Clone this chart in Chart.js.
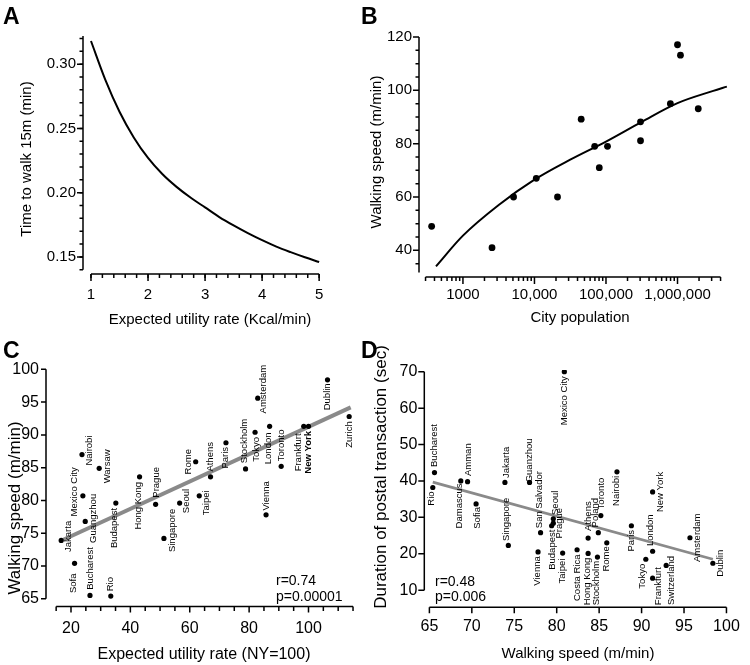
<!DOCTYPE html>
<html><head><meta charset="utf-8">
<script src="https://cdn.jsdelivr.net/npm/chart.js@4.4.0/dist/chart.umd.min.js"></script>
<style>
html,body{margin:0;padding:0;background:#fff;}
#wrap{position:relative;width:750px;height:665px;overflow:hidden;}
canvas{position:absolute;left:0;top:0;}
</style></head><body>
<div id="wrap">
<canvas id="cA" width="750" height="665"></canvas>
<canvas id="cB" width="750" height="665"></canvas>
<canvas id="cC" width="750" height="665"></canvas>
<canvas id="cD" width="750" height="665"></canvas>
</div>
<script>
// ---------- Panel A ----------
const A_RATE = [1, 1.25, 1.5, 1.75, 2, 2.25, 2.5, 2.75, 3, 3.25, 3.5, 3.75, 4, 4.25, 4.5, 4.75, 5];
const A_TIME = [0.318, 0.288, 0.263, 0.243, 0.227, 0.2145, 0.2045, 0.196, 0.1885, 0.181, 0.1745, 0.1685, 0.163, 0.158, 0.1537, 0.1497, 0.146];
const A_X_TICKS = [1, 2, 3, 4, 5];
const A_X_LABELS = ['1', '2', '3', '4', '5'];
const A_Y_TICKS = [0.15, 0.20, 0.25, 0.30];
const A_Y_LABELS = ['0.15', '0.20', '0.25', '0.30'];

// ---------- Panel B ----------
const B_POP = [365, 2550, 5100, 10600, 21000, 45000, 69500, 80600, 105000, 304000, 304000, 795000, 1000000, 1100000, 1950000];
const B_SPEED = [49, 41, 60, 67, 60, 89.2, 79, 71, 79, 88.2, 81.1, 95, 117.1, 113.2, 93.1];
const B_FIT_POP = [420, 1000, 3162, 10000, 31623, 100000, 316228, 1000000, 3162278, 4900000];
const B_FIT_SPEED = [34, 45.5, 57, 66.5, 74, 80.8, 88.2, 95.2, 99.8, 101.4];
const B_X_TICKS = [1000, 10000, 100000, 1000000];
const B_X_LABELS = ['1000', '10,000', '100,000', '1,000,000'];
const B_Y_TICKS = [40, 60, 80, 100, 120];
const B_Y_LABELS = ['40', '60', '80', '100', '120'];

// ---------- Panel C ----------
const C_CITY = ['Jakarta','Sofa','Mexico City','Nairobi','Guangzhou','Bucharest','Warsaw','Rio','Budapest','Hong Kong','Prague','Singapore','Seoul','Rome','Taipei','Athens','Paris','Stockholm','Tokyo','Amsterdam','Vienna','London','Toronto','Frankfurt','New York','Dublin','Zurich'];
const C_UTILITY = [16.7, 21.2, 24.0, 23.7, 24.8, 26.4, 29.5, 33.4, 35.1, 43.1, 48.5, 51.3, 56.6, 62.0, 63.2, 67.0, 72.2, 78.8, 82.0, 82.9, 85.7, 86.9, 90.8, 98.4, 100, 106.4, 113.7];
const C_SPEED = [73.9, 70.4, 80.7, 87.0, 76.8, 65.5, 84.9, 65.4, 79.6, 83.6, 79.4, 74.2, 79.6, 85.9, 80.7, 83.6, 88.8, 84.8, 90.4, 95.6, 77.8, 91.3, 85.2, 91.3, 91.3, 98.4, 92.8];
const C_FIT_X = [17.4, 114.2];
const C_FIT_Y = [74.0, 94.2];
const C_X_TICKS = [20, 40, 60, 80, 100];
const C_X_LABELS = ['20', '40', '60', '80', '100'];
const C_Y_TICKS = [65, 70, 75, 80, 85, 90, 95, 100];
const C_Y_LABELS = ['65', '70', '75', '80', '85', '90', '95', '100'];

// ---------- Panel D ----------
const D_CITY = ['Rio','Bucharest','Damascus','Amman','Sofia','Jakarta','Singapore','Guanzhou','San Salvador','Vienna','Budapest','Prague','Seoul','Taipei','Mexico City','Costa Rica','Hong Kong','Athens','Stockholm','Poland','Toronto','Rome','Nairobi','Paris','London','New York','Tokyo','Frankfurt','Switzerland','Amsterdam','Dublin'];
const D_SPEED = [65.4, 65.6, 68.7, 69.5, 70.5, 73.9, 74.3, 76.8, 78.1, 77.8, 79.4, 79.6, 79.6, 80.7, 80.9, 82.4, 83.7, 83.7, 84.8, 84.9, 85.2, 85.9, 87.1, 88.8, 91.3, 91.3, 90.5, 91.3, 92.9, 95.7, 98.4];
const D_DURATION = [38.2, 42.3, 40.0, 39.8, 33.7, 39.6, 22.3, 39.6, 25.8, 20.5, 27.7, 28.4, 29.6, 20.2, 70.0, 21.1, 20.1, 24.3, 19.1, 25.8, 30.5, 23.0, 42.5, 27.7, 20.7, 37.0, 18.5, 13.3, 16.8, 24.4, 17.4];
const D_FIT_X = [65.4, 98.4];
const D_FIT_Y = [39.7, 18.5];
const D_X_TICKS = [65, 70, 75, 80, 85, 90, 95, 100];
const D_X_LABELS = ['65', '70', '75', '80', '85', '90', '95', '100'];
const D_Y_TICKS = [10, 20, 30, 40, 50, 60, 70];
const D_Y_LABELS = ['10', '20', '30', '40', '50', '60', '70'];

// ---------- label placement (pixel offsets of each city name from its dot) ----------
const C_LABEL_OFFSET = [[7,-4],[-1,20],[-8,-4],[7,-4],[8,-3],[0,-27],[8,-2],[0,-12],[-1,25],[-1,29],[1,-22],[8,-8],[7,-2],[-7,0],[7,7],[0,-20],[-1,15],[-1,-28],[1,17],[6,-9],[0,-19],[-1,22],[0,-21],[-5,26],[0,26],[0,17],[0,18]];
const D_LABEL_OFFSET = [[-1,11],[0,-27],[-1,25],[1,-22],[1,14],[1,-20],[-2,-26],[0,-22],[-1,-33],[-1,19],[1,24],[6,0],[2,-16],[0,18],[0,29],[0,28],[-1,28],[0,-22],[-1,26],[-3,-20],[1,-22],[0,16],[-1,19],[0,15],[-2,-21],[8,0],[-3,17],[6,8],[5,15],[7,0],[7,0]];

const FONT = "'Liberation Sans', Arial, Helvetica, sans-serif";
const YW = 40, XH = 40;

function pts(xs, ys) { return xs.map((x, i) => ({x: x, y: ys[i]})); }
function steps(a, b, s) { const r = []; for (let v = a; v <= b + 1e-9; v += s) r.push(+v.toFixed(6)); return r; }
function logMinor(lo, hi) {
  const r = [];
  for (let d = 100; d <= 1e7; d *= 10) for (let m = 2; m <= 9; m++) { const v = d * m; if (v >= lo && v <= hi) r.push(v); }
  return r;
}
function padFor(a) { return {left: a.left - YW, top: a.top, right: 750 - a.right, bottom: 665 - a.bottom - XH}; }

function scaleCfg(o) {
  return {
    type: o.type || 'linear', min: o.min, max: o.max, position: o.horizontal ? 'bottom' : 'left',
    grid: {display: false, drawTicks: false}, border: {display: false},
    ticks: {color: '#000', font: {family: FONT, size: o.size}, padding: o.pad, autoSkip: false,
      maxRotation: 0, minRotation: 0, callback: (v, i) => o.labels[i]},
    afterBuildTicks: ax => { ax.ticks = o.ticks.map(v => ({value: v})); },
    afterFit: ax => { if (o.horizontal) ax.height = XH; else ax.width = YW; }
  };
}

function vtext(ctx, txt, x, y, font) {
  ctx.save(); ctx.translate(x, y); ctx.rotate(-Math.PI / 2);
  ctx.font = font; ctx.textAlign = 'center'; ctx.textBaseline = 'middle';
  ctx.fillText(txt, 0, 0); ctx.restore();
}

function makeDeco(o) {
  return {
    id: 'deco',
    afterDatasetsDraw(chart) {
      const ctx = chart.ctx, xs = chart.scales.x, ys = chart.scales.y, ca = chart.chartArea;
      const X = v => xs.getPixelForValue(v), Y = v => ys.getPixelForValue(v);
      const L = ca.left, B = ca.bottom;
      ctx.save();
      ctx.strokeStyle = '#000'; ctx.lineWidth = 1.5; ctx.lineCap = 'butt';
      ctx.beginPath();
      ctx.moveTo(L, Y(o.yLine[0])); ctx.lineTo(L, Y(o.yLine[1]));
      ctx.moveTo(X(o.xLine[0]), B); ctx.lineTo(X(o.xLine[1]), B);
      ctx.stroke();
      const ticks = (list, len, horiz) => {
        ctx.beginPath();
        list.forEach(v => {
          if (horiz) { const p = X(v); ctx.moveTo(p, B); ctx.lineTo(p, B + len); }
          else { const p = Y(v); ctx.moveTo(L, p); ctx.lineTo(L - len, p); }
        });
        ctx.stroke();
      };
      ticks(o.yMajor, o.yMajorLen, false);
      ticks(o.yMinor, o.yMinorLen, false);
      ticks(o.xMajor, o.xMajorLen, true);
      ticks(o.xMinor, o.xMinorLen, true);
      ctx.fillStyle = '#000';
      if (o.cities) {
        const c = o.cities;
        c.names.forEach((n, i) => {
          const bold = c.bold && c.bold.indexOf(n) >= 0;
          vtext(ctx, n, X(c.x[i]) + c.off[i][0], Y(c.y[i]) + c.off[i][1],
            (bold ? 'bold ' : '') + c.size + 'px ' + FONT);
        });
      }
      (o.titles || []).forEach(t => {
        if (t.rot) vtext(ctx, t.text, t.x, t.y, t.size + 'px ' + FONT);
        else { ctx.font = t.size + 'px ' + FONT; ctx.textAlign = 'center'; ctx.textBaseline = 'middle'; ctx.fillText(t.text, t.x, t.y); }
      });
      (o.notes || []).forEach(t => {
        ctx.font = t.size + 'px ' + FONT; ctx.textAlign = 'left'; ctx.textBaseline = 'middle'; ctx.fillText(t.text, t.x, t.y);
      });
      if (o.letter) {
        ctx.font = 'bold 23px ' + FONT; ctx.textAlign = 'left'; ctx.textBaseline = 'alphabetic';
        ctx.fillText(o.letter.text, o.letter.x, o.letter.y);
      }
      ctx.restore();
    }
  };
}

function make(id, area, scales, datasets, decoOpts) {
  return new Chart(document.getElementById(id), {
    type: 'scatter',
    data: {datasets: datasets},
    options: {
      responsive: false, animation: false, devicePixelRatio: 1,
      layout: {padding: padFor(area), autoPadding: false},
      plugins: {legend: {display: false}, tooltip: {enabled: false}},
      scales: scales, events: []
    },
    plugins: [makeDeco(decoOpts)]
  });
}

// Panel A
make('cA', {left: 83, right: 322, top: 34.6, bottom: 274},
  {x: scaleCfg({min: 0.86, max: 5.05, horizontal: true, ticks: A_X_TICKS, labels: A_X_LABELS, size: 15, pad: 12}),
   y: scaleCfg({min: 0.1367, max: 0.323, ticks: A_Y_TICKS, labels: A_Y_LABELS, size: 15, pad: 7})},
  [{data: pts(A_RATE, A_TIME), showLine: true, borderColor: '#000', borderWidth: 2, pointRadius: 0, cubicInterpolationMode: 'monotone', fill: false}],
  {yLine: [0.14, 0.322], yMajor: A_Y_TICKS, yMinor: steps(0.14, 0.32, 0.01), yMajorLen: 6, yMinorLen: 3.5,
   xLine: [1, 5], xMajor: A_X_TICKS, xMinor: steps(1, 5, 0.2), xMajorLen: 7, xMinorLen: 4,
   titles: [{text: 'Expected utility rate (Kcal/min)', x: 210, y: 320, size: 15},
            {text: 'Time to walk 15m (min)', x: 27, y: 159, size: 15, rot: true}],
   letter: {text: 'A', x: 3, y: 24}});

// Panel B
make('cB', {left: 419, right: 727.5, top: 33, bottom: 277},
  {x: scaleCfg({type: 'logarithmic', min: 243, max: 5e6, horizontal: true, ticks: B_X_TICKS, labels: B_X_LABELS, size: 15, pad: 9}),
   y: scaleCfg({min: 30, max: 121.5, ticks: B_Y_TICKS, labels: B_Y_LABELS, size: 15, pad: 7})},
  [{data: pts(B_POP, B_SPEED), showLine: false, pointRadius: 3.4, pointBackgroundColor: '#000', pointBorderWidth: 0},
   {data: pts(B_FIT_POP, B_FIT_SPEED), showLine: true, borderColor: '#000', borderWidth: 2, pointRadius: 0, cubicInterpolationMode: 'monotone', fill: false}],
  {yLine: [31.7, 120], yMajor: B_Y_TICKS, yMinor: steps(35, 115, 5).filter(v => v % 20 !== 0), yMajorLen: 6, yMinorLen: 3.5,
   xLine: [300, 4e6], xMajor: B_X_TICKS, xMinor: logMinor(300, 4e6), xMajorLen: 7, xMinorLen: 4,
   titles: [{text: 'City population', x: 580, y: 318, size: 15},
            {text: 'Walking speed (m/min)', x: 377, y: 152, size: 15, rot: true}],
   letter: {text: 'B', x: 361, y: 24}});

// Panel C
make('cC', {left: 46, right: 356, top: 365.4, bottom: 606.6},
  {x: scaleCfg({min: 11.58, max: 116, horizontal: true, ticks: C_X_TICKS, labels: C_X_LABELS, size: 16, pad: 12}),
   y: scaleCfg({min: 63.8, max: 100.6, ticks: C_Y_TICKS, labels: C_Y_LABELS, size: 16, pad: 7})},
  [{data: pts(C_UTILITY, C_SPEED), showLine: false, pointRadius: 2.6, pointBackgroundColor: '#000', pointBorderWidth: 0},
   {data: pts(C_FIT_X, C_FIT_Y), showLine: true, borderColor: '#8a8a8a', borderWidth: 4, pointRadius: 0, fill: false}],
  {yLine: [65, 100], yMajor: C_Y_TICKS, yMinor: [], yMajorLen: 5, yMinorLen: 3,
   xLine: [15, 115], xMajor: C_X_TICKS, xMinor: steps(15, 115, 5).filter(v => v % 20 !== 0), xMajorLen: 6, xMinorLen: 4.5,
   cities: {names: C_CITY, x: C_UTILITY, y: C_SPEED, off: C_LABEL_OFFSET, size: 9.5, bold: ['New York']},
   titles: [{text: 'Expected utility rate (NY=100)', x: 204, y: 655, size: 16},
            {text: 'Walking speed (m/min)', x: 15, y: 508, size: 17, rot: true}],
   notes: [{text: 'r=0.74', x: 276, y: 581, size: 14}, {text: 'p=0.00001', x: 276, y: 597, size: 14}],
   letter: {text: 'C', x: 3, y: 358}});

// Panel D
make('cD', {left: 424.3, right: 736, top: 369.9, bottom: 607.3},
  {x: scaleCfg({min: 64.4, max: 100.5, horizontal: true, ticks: D_X_TICKS, labels: D_X_LABELS, size: 16, pad: 10}),
   y: scaleCfg({min: 5.3, max: 70.5, ticks: D_Y_TICKS, labels: D_Y_LABELS, size: 16, pad: 7})},
  [{data: pts(D_SPEED, D_DURATION), showLine: false, pointRadius: 2.6, pointBackgroundColor: '#000', pointBorderWidth: 0},
   {data: pts(D_FIT_X, D_FIT_Y), showLine: true, borderColor: '#8a8a8a', borderWidth: 2.8, pointRadius: 0, fill: false}],
  {yLine: [10, 70], yMajor: D_Y_TICKS, yMinor: [], yMajorLen: 6, yMinorLen: 3,
   xLine: [65, 100], xMajor: D_X_TICKS, xMinor: [], xMajorLen: 6, xMinorLen: 3,
   cities: {names: D_CITY, x: D_SPEED, y: D_DURATION, off: D_LABEL_OFFSET, size: 9.5},
   titles: [{text: 'Walking speed (m/min)', x: 578, y: 654, size: 15},
            {text: 'Duration of postal transaction (sec)', x: 381, y: 477, size: 17, rot: true}],
   notes: [{text: 'r=0.48', x: 435, y: 582, size: 14}, {text: 'p=0.006', x: 435, y: 597, size: 14}],
   letter: {text: 'D', x: 361, y: 358}});
</script>
</body></html>
